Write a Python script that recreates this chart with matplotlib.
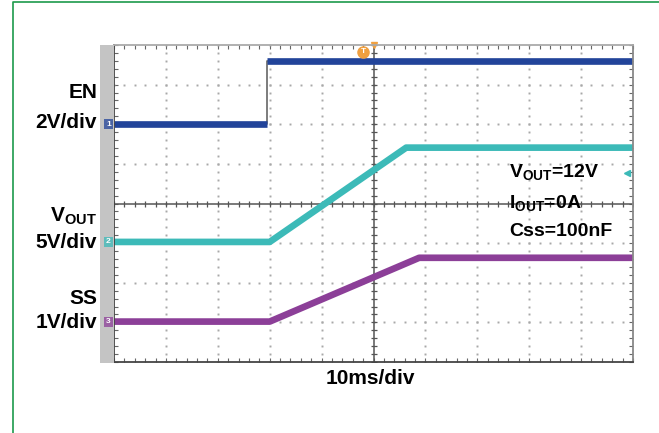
import matplotlib.pyplot as plt
import numpy as np
from matplotlib.patches import Rectangle

plt.rcParams['font.family'] = ['Liberation Sans', 'DejaVu Sans']
plt.rcParams['mathtext.fontset'] = 'custom'
plt.rcParams['mathtext.bf'] = 'Liberation Sans:bold'
plt.rcParams['mathtext.rm'] = 'Liberation Sans'

W, H = 659, 433

# traces, in divisions (x: 10 div of 10ms, y: 8 div)
en_t = [0.0, 2.95, 2.95, 10.0]
en_v = [6.0, 6.0, 7.6, 7.6]
vout_t = [0.0, 3.0, 5.63, 10.0]
vout_v = [3.03, 3.03, 5.41, 5.41]
ss_t = [0.0, 3.0, 5.88, 10.0]
ss_v = [1.02, 1.02, 2.63, 2.63]

ch_levels = [6.0, 3.03, 1.02]
ch_names = ['1', '2', '3']

c_en = '#22449a'
c_vout = '#3cbab8'
c_ss = '#8c3f98'


def fx(px):
	return px / W


def fy(py):
	return 1 - py / H


fig = plt.figure(figsize=(W / 100, H / 100), dpi=100)

# green frame (left and top)
fig.add_artist(plt.Line2D([fx(13), fx(13), fx(W)], [0, fy(2), fy(2)], color='#1d9a4c', lw=1.2))

# gray bar at left of the screen
fig.add_artist(Rectangle((fx(100), fy(363)), fx(114) - fx(100), fy(45) - fy(363), color='#c4c4c4', lw=0))

ax = fig.add_axes([fx(114), fy(362), fx(633) - fx(114), fy(45) - fy(362)])
ax.set_xlim(0, 10)
ax.set_ylim(0, 8)
ax.set_xticks(np.arange(0, 10.01, 0.2))
ax.set_yticks(np.arange(0, 8.01, 0.2))
ax.set_xticklabels([])
ax.set_yticklabels([])
ax.tick_params(direction='in', length=3, width=0.8, color='#666666', top=True, right=True)
for s in ax.spines.values():
	s.set_color('#444444')
	s.set_linewidth(1.3)
ax.spines['top'].set_color('#aaaaaa')
ax.spines['right'].set_color('#888888')

# dotted graticule
sub_y = np.arange(0, 8.01, 0.2)
sub_x = np.arange(0, 10.01, 0.2)
for gx in range(1, 10):
	if gx != 5:
		ax.plot(np.full_like(sub_y, gx), sub_y, ls='none', marker='s', ms=1.4, color='#a8a8a8', mew=0)
for gy in range(1, 8):
	if gy != 4:
		ax.plot(sub_x, np.full_like(sub_x, gy), ls='none', marker='s', ms=1.4, color='#a8a8a8', mew=0)

# center cross with ticks
ax.axvline(5, color='#555555', lw=1.1)
ax.axhline(4, color='#555555', lw=1.1)
ax.plot(sub_x, np.full_like(sub_x, 4), ls='none', marker='|', ms=5, color='#555555', mew=0.9)
ax.plot(np.full_like(sub_y, 5), sub_y, ls='none', marker='_', ms=5, color='#555555', mew=0.9)

# traces
ax.plot(en_t, en_v, color='#666666', lw=1.2)
ax.plot(en_t[:2], en_v[:2], color=c_en, lw=4.8, solid_capstyle='butt')
ax.plot(en_t[2:], en_v[2:], color=c_en, lw=4.8, solid_capstyle='butt')
ax.plot(vout_t, vout_v, color=c_vout, lw=4.8, solid_capstyle='butt')
ax.plot(ss_t, ss_v, color=c_ss, lw=4.8, solid_capstyle='butt')

# trigger markers
ax.plot([4.8], [7.83], marker='o', ms=8, color='#f0a040', clip_on=False)
ax.text(4.8, 7.83, 'T', ha='center', va='center', fontsize=6, color='white', fontweight='bold')
ax.plot([5.0], [8.0], marker='v', ms=5, color='#f0a040', clip_on=False)
ax.plot([9.88], [4.77], marker='<', ms=4, color=c_vout, clip_on=False)

# channel markers on the gray bar
for lvl, name, c in zip(ch_levels, ch_names, [c_en, c_vout, c_ss]):
	y = 362 - lvl * (317 / 8)
	fig.add_artist(Rectangle((fx(104), fy(y + 5)), fx(9), fy(0) - fy(10), color=c, lw=0, alpha=0.75))
	fig.text(fx(108.5), fy(y), name, ha='center', va='center', fontsize=6, color='white', fontweight='bold')

# labels
lab = dict(ha='right', va='center', fontsize=15, fontweight='bold', color='black')
fig.text(fx(97), fy(93), 'EN', **lab)
fig.text(fx(97), fy(123), '2V/div', **lab)
fig.text(fx(97), fy(216), r'$\mathbf{V_{OUT}}$', **lab)
fig.text(fx(97), fy(243), '5V/div', **lab)
fig.text(fx(97), fy(299), 'SS', **lab)
fig.text(fx(97), fy(323), '1V/div', **lab)

note = dict(ha='left', va='center', fontsize=14, fontweight='bold', color='black')
fig.text(fx(509), fy(172), r'$\mathbf{V_{OUT}}$=12V', **note)
fig.text(fx(509), fy(203), r'$\mathbf{I_{OUT}}$=0A', **note)
fig.text(fx(509), fy(232), 'Css=100nF', **note)

fig.text(fx(370), fy(378), '10ms/div', ha='center', va='center', fontsize=15, fontweight='bold')

plt.savefig('out.png', dpi=100)
